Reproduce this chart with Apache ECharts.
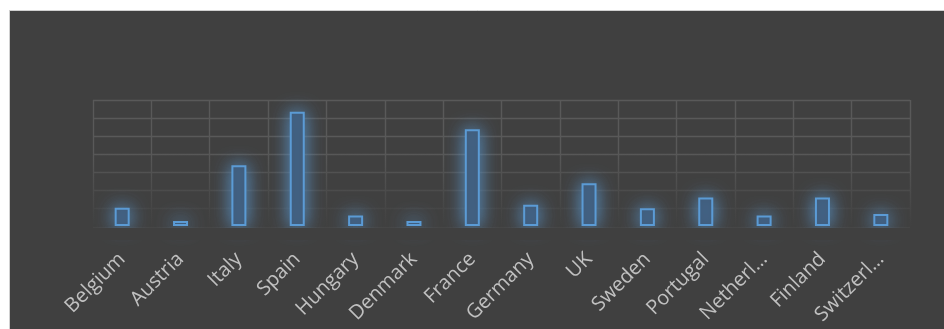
<!DOCTYPE html>
<html>
<head>
<meta charset="utf-8">
<script src="https://cdn.jsdelivr.net/npm/echarts@6/dist/echarts.min.js"></script>
<style>
  html, body { margin: 0; padding: 0; background: #ffffff; }
  #chart { width: 944px; height: 329px; }
</style>
</head>
<body>
<div id="chart"></div>
<script>
// Country categories along the x axis
const countries = ['Belgium', 'Austria', 'Italy', 'Spain', 'Hungary', 'Denmark', 'France',
  'Germany', 'UK', 'Sweden', 'Portugal', 'Netherlands', 'Finland', 'Switzerland'];

// Tick label text shown under each category (long names are cut short)
const tickLabels = ['Belgium', 'Austria', 'Italy', 'Spain', 'Hungary', 'Denmark', 'France',
  'Germany', 'UK', 'Sweden', 'Portugal', 'Netherl\u2026', 'Finland', 'Switzerl\u2026'];

// Bar values per country
const values = [10.2, 2.8, 33.7, 63.5, 5.9, 2.8, 53.7, 11.8, 23.7, 9.8, 15.9, 5.9, 15.9, 6.7];

// Value axis range (labels are not shown)
const yMin = 0;
const yMax = 70;
const yStep = 10;

const chart = echarts.init(document.getElementById('chart'), null, { renderer: 'canvas' });

const gridLeft = 93, gridRight = 34, gridTop = 100, gridBottom = 103;
const W = 944, H = 329;

chart.setOption({
  backgroundColor: '#ffffff',
  animation: false,
  graphic: [
    {
      // dark chart panel with a thin light frame
      type: 'rect',
      z: -10,
      shape: { x: 9.5, y: 10.5, width: W, height: H },
      style: { fill: '#404040', stroke: '#d0d0d0', lineWidth: 1 }
    },
    {
      // gridlines fade out towards the baseline
      type: 'rect',
      z: 1,
      silent: true,
      shape: { x: gridLeft - 3, y: 150, width: W - gridLeft - gridRight + 6, height: H - gridBottom - 150 + 1 },
      style: {
        fill: new echarts.graphic.LinearGradient(0, 0, 0, 1, [
          { offset: 0, color: 'rgba(64,64,64,0)' },
          { offset: 1, color: 'rgba(64,64,64,1)' }
        ])
      }
    },
    {
      // glow stops at the plot baseline
      type: 'rect',
      z: 3,
      silent: true,
      shape: { x: gridLeft - 10, y: H - gridBottom + 2, width: W - gridLeft - gridRight + 20, height: 12 },
      style: { fill: '#404040' }
    }
  ],
  grid: {
    left: gridLeft, right: gridRight, top: gridTop, bottom: gridBottom,
    containLabel: false,
    outerBoundsMode: 'none'
  },
  xAxis: {
    type: 'category',
    data: countries,
    boundaryGap: true,
    axisLine: { show: false },
    axisTick: { show: false },
    splitLine: { show: true, lineStyle: { color: '#595959', width: 1.4 } },
    axisLabel: {
      rotate: 45,
      interval: 0,
      margin: 30,
      color: '#c0c0c0',
      fontFamily: 'Open Sans',
      fontSize: 20,
      formatter: (name, idx) => tickLabels[idx]
    }
  },
  yAxis: {
    type: 'value',
    min: yMin,
    max: yMax,
    interval: yStep,
    axisLine: { show: false },
    axisTick: { show: false },
    axisLabel: { show: false },
    splitLine: { show: true, lineStyle: { color: '#595959', width: 1.4 } }
  },
  series: [{
    type: 'bar',
    data: values,
    barWidth: 15,
    z: 2,
    itemStyle: {
      color: '#3e5774',
      borderColor: '#5b9bd5',
      borderWidth: 2,
      shadowBlur: 18,
      shadowColor: 'rgba(91,155,213,0.95)'
    }
  }]
});
</script>
</body>
</html>
